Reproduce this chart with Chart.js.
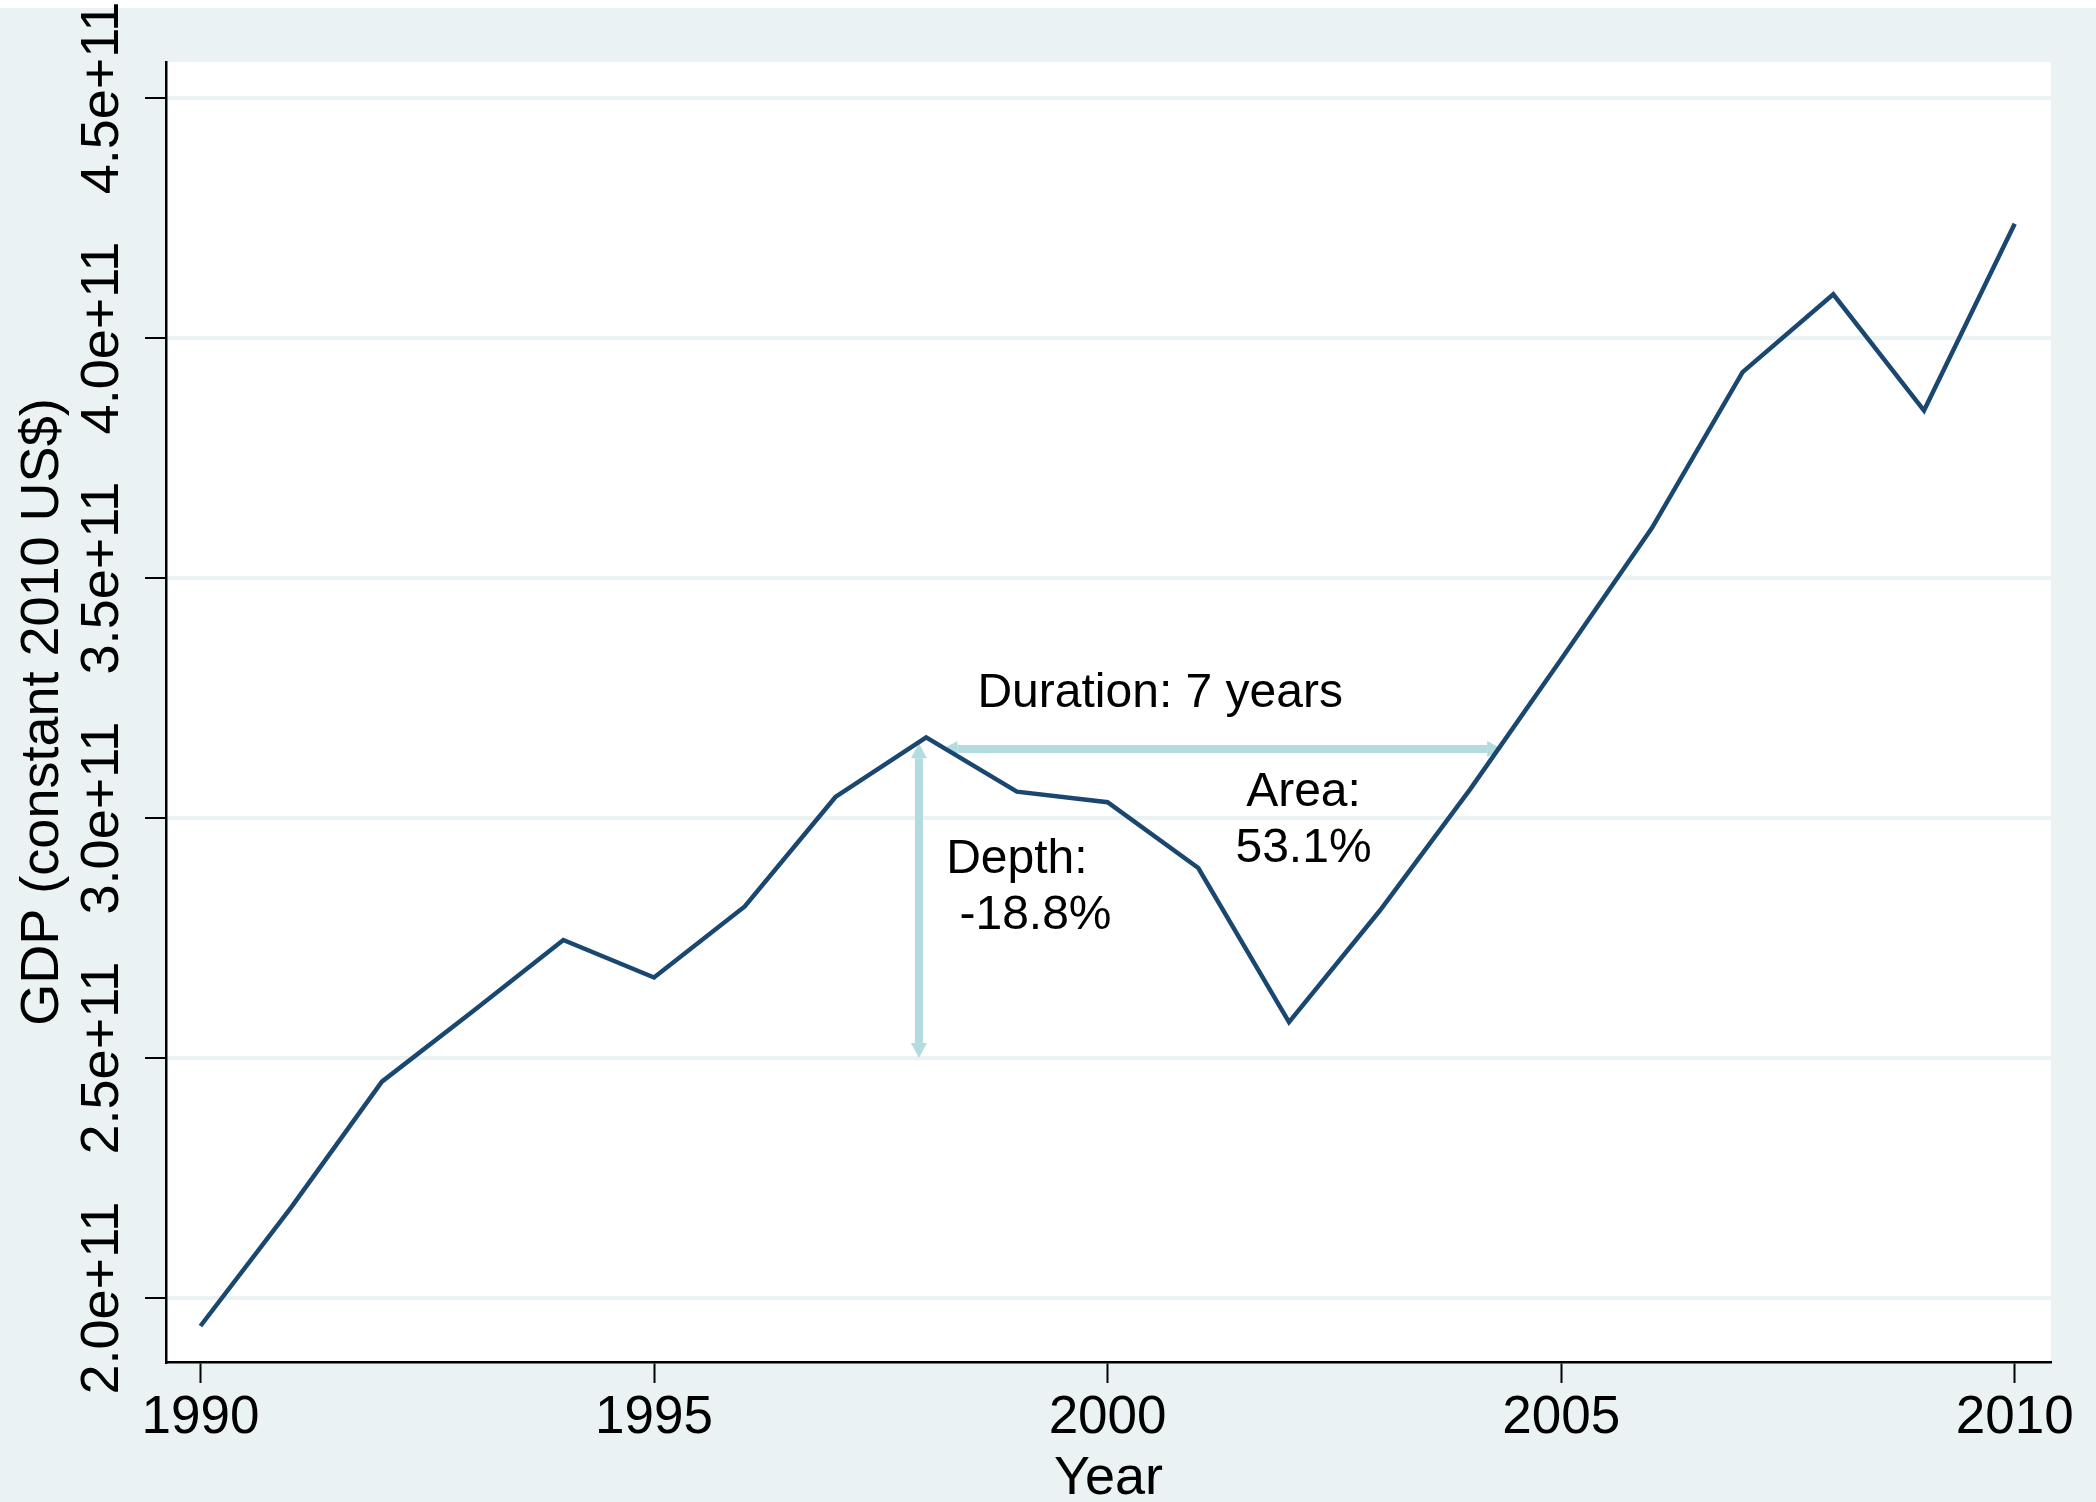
<!DOCTYPE html>
<html>
<head>
<meta charset="utf-8">
<script src="https://cdn.jsdelivr.net/npm/chart.js@4.4.0/dist/chart.umd.min.js"></script>
<style>
  html, body { margin: 0; padding: 0; background: #fff; }
  #marco { width: 2096px; height: 1502px; }
</style>
</head>
<body>
<div id="marco"><canvas id="grafico" width="2096" height="1502"></canvas></div>
<script>
// Datos
const years = [1990, 1991, 1992, 1993, 1994, 1995, 1996, 1997, 1998, 1999, 2000,
               2001, 2002, 2003, 2004, 2005, 2006, 2007, 2008, 2009, 2010];
const gdp = [1.942e11, 2.189e11, 2.451e11, 2.597e11, 2.746e11, 2.668e11, 2.816e11,
             3.044e11, 3.168e11, 3.055e11, 3.033e11, 2.896e11, 2.575e11, 2.807e11,
             3.061e11, 3.331e11, 3.604e11, 3.929e11, 4.091e11, 3.849e11, 4.238e11];
const xTicks = [1990, 1995, 2000, 2005, 2010];
const yTicks = [2.0e11, 2.5e11, 3.0e11, 3.5e11, 4.0e11, 4.5e11];
const yTickLabels = ["2.0e+11", "2.5e+11", "3.0e+11", "3.5e+11", "4.0e+11", "4.5e+11"];

// Anotaciones de la recesión (en unidades de los ejes)
const durationArrow = { from: 1998.18, to: 2004.35, at: 3.144e11 };
const depthArrow = { at: 1997.92, from: 3.156e11, to: 2.5e11 };
const notes = [
    { lines: ["Duration: 7 years"], x: 2000.58, y: 3.258e11, align: "center" },
    { lines: ["Area:", "53.1%"], x: 2002.16, y: 2.994e11, align: "center" },
    { lines: ["Depth:", " -18.8%"], x: 1998.22, y: 2.854e11, align: "left" },
];

const FONT = "'Liberation Sans', Arial, Helvetica, sans-serif";
const FONDO = "#eaf2f3";
const FLECHA = "#b3dce0";

function flecha(ctx, x1, y1, x2, y2) {
    // línea con punta en ambos extremos
    const ang = Math.atan2(y2 - y1, x2 - x1);
    const largo = 15, medio = 8;
    const dx = Math.cos(ang), dy = Math.sin(ang);
    ctx.strokeStyle = FLECHA;
    ctx.fillStyle = FLECHA;
    ctx.lineWidth = 8;
    ctx.beginPath();
    ctx.moveTo(x1 + dx * largo, y1 + dy * largo);
    ctx.lineTo(x2 - dx * largo, y2 - dy * largo);
    ctx.stroke();
    [[x1, y1, -1], [x2, y2, 1]].forEach(([px, py, s]) => {
        const bx = px - s * dx * largo, by = py - s * dy * largo;
        ctx.beginPath();
        ctx.moveTo(px, py);
        ctx.lineTo(bx - dy * medio, by + dx * medio);
        ctx.lineTo(bx + dy * medio, by - dx * medio);
        ctx.closePath();
        ctx.fill();
    });
}

const fondoPlugin = {
    id: "fondo",
    beforeDraw(chart) {
        const { ctx, chartArea: a } = chart;
        ctx.save();
        ctx.fillStyle = "#fff";
        ctx.fillRect(0, 0, chart.width, chart.height);
        ctx.fillStyle = FONDO;
        ctx.fillRect(0, 8, chart.width, chart.height - 8);
        ctx.fillStyle = "#fff";
        ctx.fillRect(a.left, a.top, a.right - a.left, a.bottom - a.top);
        ctx.restore();
    },
    beforeDatasetsDraw(chart) {
        const { ctx, scales: { x, y } } = chart;
        ctx.save();
        flecha(ctx, x.getPixelForValue(durationArrow.from), y.getPixelForValue(durationArrow.at),
                    x.getPixelForValue(durationArrow.to), y.getPixelForValue(durationArrow.at));
        flecha(ctx, x.getPixelForValue(depthArrow.at), y.getPixelForValue(depthArrow.from),
                    x.getPixelForValue(depthArrow.at), y.getPixelForValue(depthArrow.to));
        ctx.restore();
    },
    afterDraw(chart) {
        const { ctx, scales: { x, y } } = chart;
        ctx.save();
        ctx.fillStyle = "#000";
        // etiquetas del eje Y, giradas
        ctx.font = "54px " + FONT;
        ctx.textAlign = "center";
        ctx.textBaseline = "middle";
        yTicks.forEach((v, i) => {
            ctx.save();
            ctx.translate(103, y.getPixelForValue(v));
            ctx.rotate(-Math.PI / 2);
            ctx.fillText(yTickLabels[i], 0, 0);
            ctx.restore();
        });
        // textos de las anotaciones
        ctx.font = "48px " + FONT;
        const salto = 56;
        notes.forEach(n => {
            ctx.textAlign = n.align;
            const px = x.getPixelForValue(n.x);
            const py = y.getPixelForValue(n.y);
            n.lines.forEach((t, i) => {
                ctx.fillText(t, px, py + (i - (n.lines.length - 1) / 2) * salto);
            });
        });
        ctx.restore();
    }
};

const ctx = document.getElementById("grafico").getContext("2d");
const chart = new Chart(ctx, {
    type: "line",
    data: {
        datasets: [{
            label: "GDP",
            data: years.map((yr, i) => ({ x: yr, y: gdp[i] })),
            borderColor: "#1a476f",
            borderWidth: 4.5,
            pointRadius: 0,
            tension: 0,
            fill: false,
        }],
    },
    options: {
        responsive: false,
        animation: false,
        devicePixelRatio: 1,
        layout: { padding: { top: 62, right: 45, bottom: 0, left: 0 } },
        plugins: {
            legend: { display: false },
            tooltip: { enabled: false },
        },
        scales: {
            x: {
                type: "linear",
                min: 1989.62,
                max: 2010.40,
                afterBuildTicks: s => { s.ticks = xTicks.map(v => ({ value: v })); },
                afterFit: s => { s.height = 140; },
                ticks: {
                    color: "#000",
                    font: { family: FONT, size: 53 },
                    padding: 4,
                    maxRotation: 0,
                    callback: v => String(v),
                },
                grid: {
                    drawOnChartArea: false,
                    drawTicks: true,
                    tickLength: 21,
                    tickColor: "#000",
                    tickWidth: 2,
                },
                border: { display: true, color: "#000", width: 2.5 },
                title: {
                    display: true,
                    text: "Year",
                    color: "#000",
                    font: { family: FONT, size: 54, lineHeight: 0.85 },
                    padding: 0,
                },
            },
            y: {
                type: "linear",
                min: 1.867e11,
                max: 4.575e11,
                afterBuildTicks: s => { s.ticks = yTicks.map(v => ({ value: v })); },
                afterFit: s => { s.width = 166; },
                ticks: { display: false },
                grid: {
                    color: FONDO,
                    lineWidth: 4,
                    drawTicks: true,
                    tickLength: 21,
                    tickColor: "#000",
                    tickWidth: 2,
                },
                border: { display: true, color: "#000", width: 2.5 },
                title: {
                    display: true,
                    text: "GDP (constant 2010 US$)",
                    color: "#000",
                    font: { family: FONT, size: 54, lineHeight: 1 },
                    padding: { top: 16, bottom: 0 },
                },
            },
        },
    },
    plugins: [fondoPlugin],
});
</script>
</body>
</html>
